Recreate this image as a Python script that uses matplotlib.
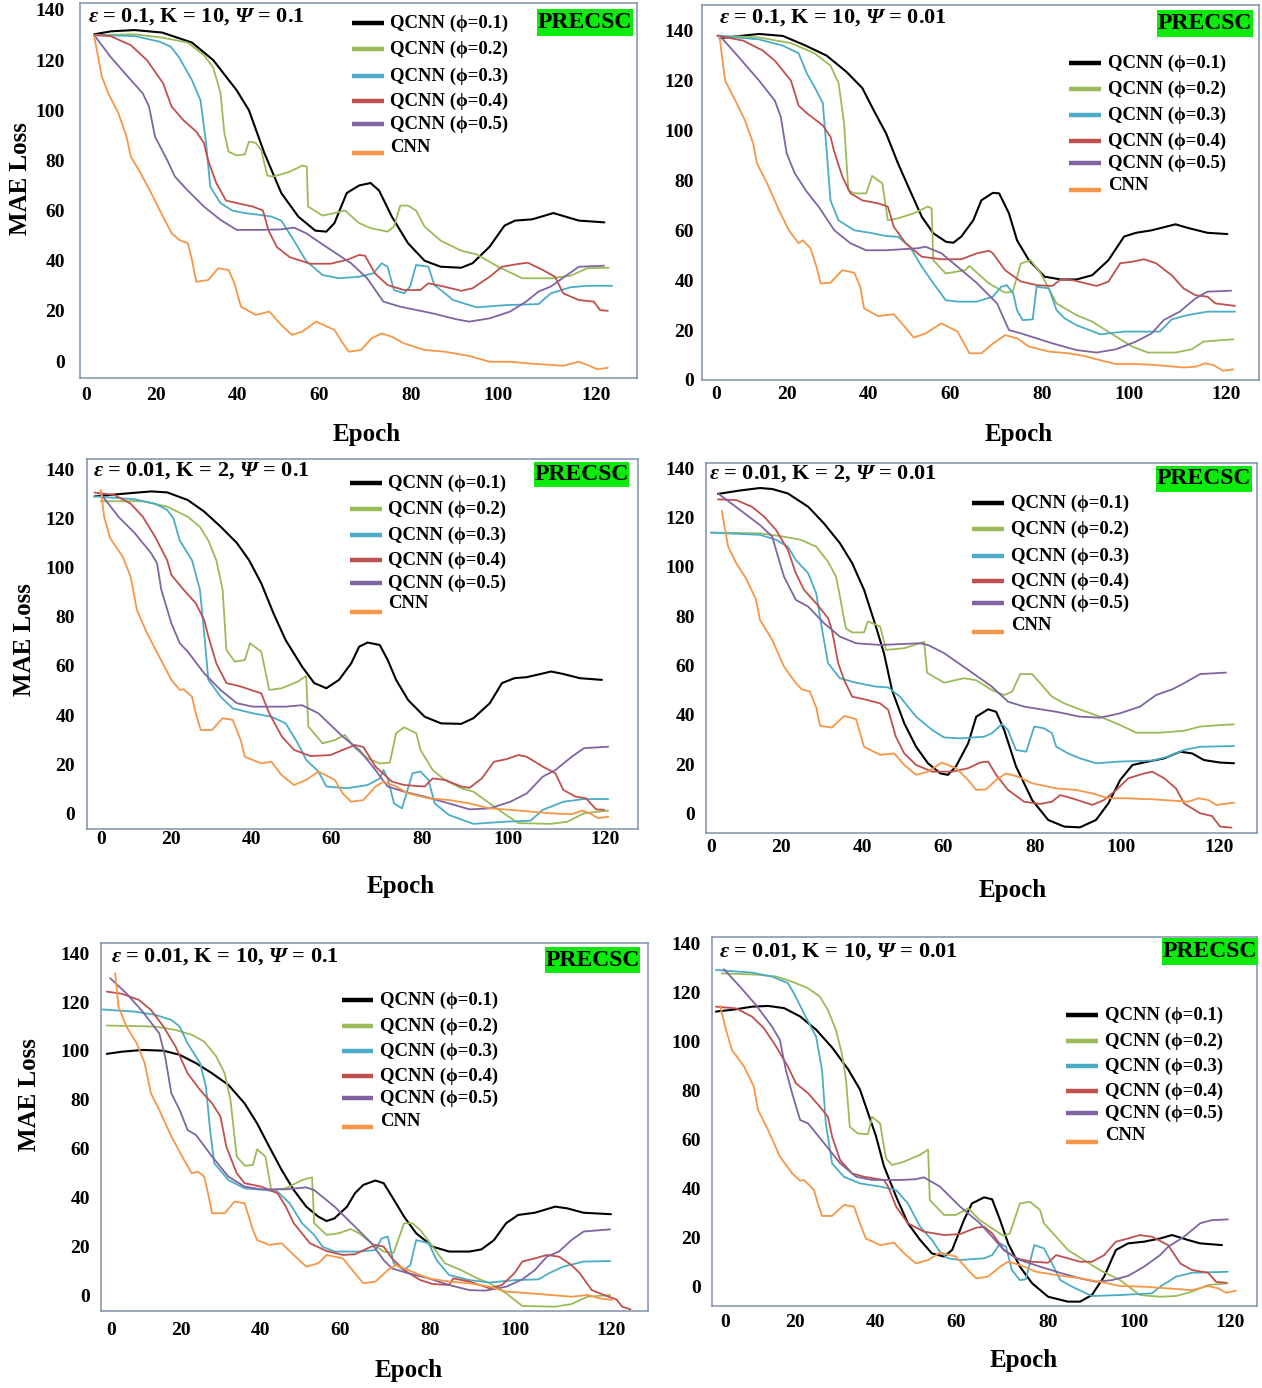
import matplotlib
matplotlib.use("Agg")
import matplotlib.pyplot as plt
from matplotlib.lines import Line2D
from matplotlib.patches import Rectangle

# ---------------- data (epoch, MAE loss) ----------------
SERIES_LABELS = ["QCNN (ϕ=0.1)", "QCNN (ϕ=0.2)", "QCNN (ϕ=0.3)",
                 "QCNN (ϕ=0.4)", "QCNN (ϕ=0.5)", "CNN"]
TITLES = [r"$\varepsilon$ = 0.1, K = 10, $\Psi$ = 0.1",
          r"$\varepsilon$ = 0.1, K = 10, $\Psi$ = 0.01",
          r"$\varepsilon$ = 0.01, K = 2, $\Psi$ = 0.1",
          r"$\varepsilon$ = 0.01, K = 2, $\Psi$ = 0.01",
          r"$\varepsilon$ = 0.01, K = 10, $\Psi$ = 0.1",
          r"$\varepsilon$ = 0.01, K = 10, $\Psi$ = 0.01"]
XTICK_POS = [0, 16.6, 35.8, 54.9, 76.6, 97.0, 120]
XTICK_LABELS = ["0", "20", "40", "60", "80", "100", "120"]
YTICKS = [0, 20, 40, 60, 80, 100, 120, 140]

# panel 1: eps=0.1, K=10, psi=0.1
P1_Q1 = [(2,130.3),(6,131.5),(11.5,132),(18,131),(25,127),(30,120),(35.5,108),(38.4,100),(42,83),(46,67),(50,57.6),(54,52),(56.6,51.6),(58.5,55),(61.4,67),(64.3,70),(67,71),(69,68),(72,57.6),(75.8,47),(79.7,40),(83.5,37.6),(88.3,37.2),(91,39),(95,45.6),(98.5,54),(101,56),(105,56.5),(110,59),(116,56),(122,55.3)]
P1_Q2 = [(2,130),(11.5,130.3),(18,129),(24,127),(27.8,122),(30,117),(31.7,107),(32.6,91),(33.6,83.5),(35.5,82),(37.4,82.4),(38.4,87.5),(40,87),(41.3,84),(42.7,74),(44,73.5),(48,75.5),(51,78),(52,77.5),(52.3,61.6),(55.7,58),(58.5,59),(61,60),(64.3,55),(67,53),(71,51.6),(72.5,53.6),(74,62),(75.8,62),(77.7,60),(79.7,53.6),(83.5,48),(88.3,44),(92,42.5),(97,37.6),(102.7,33),(109.4,33),(114,34),(118,37),(123,37.2)]
P1_Q3 = [(2,130),(11.5,129.6),(17.3,127.4),(20,125.4),(22,121),(25,112),(27,104),(28.3,87),(29.3,69.5),(31.7,63),(34.5,60),(37.4,59),(41.3,58.2),(43.7,57.6),(46,56),(49,48),(51.8,40),(55.7,34.3),(59.5,33),(64.3,33.6),(67.7,35),(69.6,39),(71,37.6),(72.5,28.3),(74.9,27),(76.3,29.7),(77.7,38.3),(80.6,37.6),(82,30.3),(84.5,27),(86.4,24.3),(92,21.4),(98.8,22.3),(106.5,22.7),(109.4,27),(114,29.4),(118,30),(123.8,30)]
P1_Q4 = [(2,130),(5.8,129.6),(10.6,126),(14.4,120),(18.2,110.8),(20.2,101.5),(23,96),(26,91.5),(27.8,87),(28.8,80),(30.7,71),(33,64),(35.5,63),(39.3,61.6),(41.7,60),(43,52),(45,45.4),(48,41.4),(52.8,38.8),(57.6,38.8),(61.4,40.3),(64.3,42.3),(65.7,42),(68,35),(71,30.3),(74.9,28.3),(78.7,28.3),(80.6,31),(84.5,29.6),(88.3,28),(91,29),(95,33.6),(97.9,37.6),(101.7,38.7),(104,39.2),(107.5,36.3),(110.4,33.6),(112.3,27),(116,24.3),(119.5,23.7),(121,20.3),(122.8,20)]
P1_Q5 = [(2,130),(5.8,121.4),(9.6,114),(13.4,106.8),(14.9,101.5),(16.3,89.5),(19.2,80),(21,73.5),(24,68),(27.8,61.6),(31.7,56.3),(35.5,52.3),(41.3,52.3),(46,52.5),(49,53.2),(51.8,51),(56.6,45.5),(62.4,39),(66.2,33),(70,23.7),(73.9,21.7),(81.6,19),(87.3,16.6),(90.2,15.7),(95,17),(99.8,19.7),(103.6,23.7),(106.5,27.7),(109.4,29.7),(113.2,34.3),(116,37.6),(121.9,38)]
P1_CNN = [(2,129.6),(3.8,113.4),(5.3,106.8),(7.7,98.8),(9.6,89.5),(10.6,81.5),(12.5,76.2),(15.4,67),(17.8,58.8),(20.2,51),(22,48.3),(24,47),(25,40.3),(26,31.6),(28.8,32.3),(31.2,37),(33.6,36.3),(35,31),(36.5,21.7),(40,18.4),(43.2,19.7),(46,14.4),(48.5,10.4),(50.9,11.7),(54.2,15.7),(58.5,12.4),(60.5,7),(61.9,3.7),(64.8,4.4),(67.2,9),(69.6,11),(72,9.7),(74.9,7),(79.7,4.4),(84.5,3.7),(90.2,2),(95,-0.3),(99.8,-0.3),(104.6,-1),(112.3,-1.9),(116,-0.3),(118,-1.6),(120.4,-3.3),(122.8,-2.7)]

# panel 2: eps=0.1, K=10, psi=0.01
P2_Q1 = [(0.7,137),(10,138.7),(15.6,137.9),(21,134),(25.9,130),(30.5,123.6),(34.3,117),(37,108),(39.9,98.8),(42.7,86.8),(45.5,76),(48.3,65.4),(51,58.8),(54,55.4),(55.7,55),(57.6,57.5),(60.4,64),(62.3,72),(65,75),(66.5,74.8),(68.8,66.8),(70.7,56),(73.5,48),(77.2,41.4),(81,40.3),(84.7,40.3),(88.4,42),(92.2,48),(95.9,57.5),(98.7,59),(102.4,60),(108,62.4),(110.8,61),(115.5,59),(120.2,58.5)]
P2_Q2 = [(0.2,138),(10,137.3),(17.5,135),(23,131),(26.8,126),(28.7,119),(30,103),(31,76),(32.4,74.8),(35.2,74.8),(36.6,81.8),(39,78.8),(40.3,64),(42.7,64.8),(46.4,66.8),(49.7,69.5),(50.6,68.8),(51,48),(53.9,42.7),(58.5,44),(59.5,45.7),(64.1,38.7),(67.9,35),(69.7,35.4),(71.6,46.7),(73.9,48),(76.3,42.7),(80,30.7),(84.7,26),(88.4,23.4),(94,17.4),(97.8,13.4),(101.5,11),(108,11),(111.8,12.3),(114.6,15.4),(117.4,15.8),(121.6,16.3)]
P2_Q3 = [(0.2,138),(10,136.5),(15.6,134),(19.3,131),(21.2,123),(23,117.6),(25,111),(25.9,92),(26.8,72),(28.7,64),(32.4,60),(36.1,59),(39.9,57.7),(42.7,57.4),(45.5,53.4),(48.3,45.4),(51,38.8),(53.9,32),(56.7,31.4),(61.2,31.4),(65,33.4),(67,37.4),(68.3,38),(69.8,34.7),(70.7,28),(72,24),(74.4,24.3),(75.3,37.4),(78.2,36.7),(80,28),(81.9,24.7),(84.7,22),(90.3,18.3),(95.9,19.4),(104.3,19.4),(107.1,24.3),(110.8,26),(115.5,27.4),(122,27.4)]
P2_Q4 = [(0.2,138),(6.3,136),(10.9,132),(13.7,128),(17.5,120),(19.3,110),(21.2,107),(25,102),(26.8,97.5),(27.7,91.5),(29.6,81.5),(31.5,74.8),(34.3,72),(38,70.8),(40.3,69.5),(41.7,61.4),(44.5,54.8),(48.3,49.4),(52.9,48.4),(57.6,48.4),(61.3,50.8),(64.1,51.8),(65,50.8),(67.9,44),(71.6,39.5),(75.4,38),(79,37.7),(81,40.3),(83.8,40),(89.4,37.7),(92.2,39.4),(95,46.8),(97.8,47.4),(100.6,48.4),(103.4,46.8),(107.1,42),(109.9,36.7),(112.7,34),(115.5,33.4),(117.4,30.7),(122,29.7)]
P2_Q5 = [(0.7,138),(4.4,131),(10,120),(13.7,112),(15.1,105.5),(16.5,90.8),(18.4,82.8),(21.2,75.5),(24,69.5),(27.7,60),(31.5,54.8),(35.2,52),(39.9,52),(47.3,52.8),(49.2,53.4),(52.9,50.8),(56.7,45.4),(61.3,38.8),(66,30.7),(68.8,20),(71.6,18.7),(79,14.7),(84.7,12),(89.4,11),(94,12.3),(98.7,15.4),(102.4,18.7),(105.2,24),(109,27.4),(112.7,32.7),(115.5,35.4),(121.1,35.8)]
P2_CNN = [(0.7,137.5),(2,120),(4.4,112),(6.7,104),(8.6,94.8),(9.5,86.8),(11.9,78.8),(14.7,68),(17,60),(19.3,54.8),(20.3,56),(22.1,52.8),(23.5,45.4),(24.5,38.7),(26.8,39),(29.6,44),(32.4,43),(33.8,37.4),(34.7,28.7),(38,25.6),(41.7,26.4),(43.6,22.7),(46.4,17),(49.2,18.7),(52.9,22.7),(56.7,19.4),(59.5,10.7),(62.3,10.7),(65.1,14.7),(67.9,18),(70.7,16.7),(73.5,13.4),(78.2,11.4),(82.8,10.7),(86.6,9.6),(89.4,8.3),(94,6.4),(98.7,6.4),(103.4,6),(109.9,5),(112.7,5.3),(115,6.7),(116.9,6),(119.2,3.7),(121.6,4.3)]

# panel 3: eps=0.01, K=2, psi=0.1
P3_Q1 = [(-1.5,129),(5,130),(12,131),(15.8,130.6),(20.7,127.5),(24.6,122.8),(28.5,116.7),(32.4,110),(35.3,103),(38.2,93.6),(41.1,81.4),(44,70.5),(47.9,59.7),(50.8,53),(53.7,50.9),(56.7,54.3),(59.6,61),(61.5,67.8),(63.5,69.5),(66.4,68.5),(68.3,62.4),(70.3,54.3),(73.2,46),(77.1,39.3),(81,36.6),(85.8,36.4),(88.7,38.7),(92.6,44.8),(95.5,53),(98.5,55),(101.4,55.4),(107.2,57.7),(110.1,56.7),(114,55),(119.3,54.3)]
P3_Q2 = [(0,127),(10,127),(15.8,124.8),(20.7,120.7),(23.6,116.6),(25.6,111),(27.5,103),(29,91),(29.9,66.5),(31.9,61.7),(34.3,62.4),(35.5,69.2),(38.2,65.8),(40.1,50.2),(43.1,50.9),(46.9,53.6),(48.9,55.9),(49.4,35.3),(52.8,28.5),(55.7,29.8),(58.1,31.9),(60.5,26.5),(63.5,22.4),(66.4,20.3),(68.8,20.6),(70.3,32.6),(72.2,35),(75.1,32.6),(76.1,25.8),(79,17.6),(81.9,13.6),(85.8,10.2),(88.7,8.8),(92.6,4),(96.5,-0.7),(99.4,-4),(107.2,-4.3),(111.1,-3.4),(115,0),(120.8,1.1)]
P3_Q3 = [(-1.5,129),(8,127.8),(12.9,126),(15.8,123.5),(17.3,120),(18.8,111),(21.7,103),(23.6,91),(24.6,73.3),(25.6,54.3),(28.5,47.5),(31.4,42.7),(36.2,40.7),(40.6,39.3),(44,36.6),(46.9,28.5),(48.9,21.7),(51.8,17),(53.7,10.9),(58.6,10.2),(63.5,11.5),(66.4,14.2),(67.3,17.6),(68.3,14.2),(69.8,4),(71.7,2),(74.2,16.3),(76.1,17),(78,13.6),(79.5,4),(82.9,-0.7),(88.7,-4.3),(96.5,-3.4),(102.3,-3),(105.2,1.4),(110.1,4.7),(115,5.8),(120.8,5.8)]
P3_Q4 = [(-1.5,130.5),(3.2,129.6),(7.1,126),(10,120.7),(12.9,112.6),(15.8,103),(16.8,97),(19.7,91),(22.6,85.5),(24.6,78.7),(25.6,72),(27.5,61),(29.9,53),(33.3,51.6),(38.2,48.8),(40.1,40.7),(43.1,31.2),(46,25.8),(49.9,23.3),(54.7,23.7),(57.6,25.8),(60.5,27.8),(62.5,27),(65.4,19),(69.3,12.9),(72.2,11.5),(77.1,10.9),(79,14.2),(81.9,13.6),(85.8,10.9),(87.8,10.4),(90.7,14.2),(93.6,21),(96.5,22),(99.4,23.7),(101.4,23),(105.2,19),(108.2,16.3),(110.1,9.5),(113,6.8),(115.5,6.1),(117.9,1.6),(119.8,1.4)]
P3_Q5 = [(0,130),(4.2,120.7),(8.1,114),(12,105.8),(13.4,101.7),(14.4,91),(16.8,77.3),(18.8,69.2),(20.7,65.8),(24.6,57),(28.5,50.2),(32.4,44.8),(36.2,43.4),(44,43.4),(47.9,44),(51.8,40.7),(57.6,31.2),(61.5,25.8),(65.4,17.6),(68.3,10.9),(72.2,8.8),(77.1,6.8),(82.9,4),(87.8,1.6),(92.6,2),(97.5,4.7),(101.4,8.1),(105.2,14.9),(108.2,17.6),(112.1,23),(115,26.5),(120.8,27.1)]
P3_CNN = [(0,131.6),(0.8,120.7),(2.2,112),(5.2,104.5),(7.1,96.3),(8.6,82.7),(11,73.3),(13.9,63.8),(16.8,54.3),(18.8,50.2),(19.7,50.5),(21.7,47.5),(22.6,40.7),(23.8,33.9),(26.5,33.9),(29,38.7),(31.4,38),(33.3,29.8),(34.3,23),(38.2,20.3),(40.6,21),(43,15.6),(46,11.5),(48.9,13.6),(51.8,17),(55.7,13.6),(57.6,8.1),(59.6,4.7),(62.5,5.4),(65.4,10.9),(67.3,12.9),(70.3,10.9),(73.2,8.1),(78,6.1),(82.9,5.4),(87.8,4),(92.6,2),(97.5,1.4),(102.3,0.7),(107.2,0),(112.1,-0.4),(114.5,1.1),(116.4,0),(118.4,-2),(120.8,-1.4)]

# panel 4: eps=0.01, K=2, psi=0.01
P4_Q1 = [(1.7,129.6),(6.9,131),(11.6,132),(14.5,131.6),(18.2,129.8),(23,124.4),(26.7,117.7),(30.5,109.6),(33.4,101.5),(36.2,90.7),(39,75.8),(40.9,65),(42.8,50),(45.7,36.5),(48.5,27),(51.3,20.3),(54.2,16.2),(56,15.6),(57.9,19),(60.8,28.4),(62.7,39.2),(65.5,42.2),(67.4,41.2),(69.3,33.8),(72.1,19),(75.9,5.4),(79.7,-2.7),(83.5,-5.4),(87.2,-5.7),(91,-2.7),(93.9,4),(96.7,13.5),(99.6,19.6),(103.3,21),(107.1,22.3),(110.9,25),(113.7,24.3),(116.5,21.6),(120.3,20.6),(123.6,20.3)]
P4_Q2 = [(0,113.9),(11.6,113.6),(16.4,112.5),(21.2,111),(24.9,108.2),(27.7,102.1),(29.6,96),(30.5,88),(31.9,75),(33.4,73.4),(36.2,73.4),(37.1,77.9),(40,75.8),(41.4,66.3),(45.7,67),(49.4,69),(50.4,69.6),(51.1,57),(55.1,53),(59.8,54.8),(62.7,54),(66.4,50),(69.3,48),(71.2,49.4),(73.1,56.5),(75.9,56.5),(77.8,52.8),(80.6,47.3),(83.5,44.6),(88.2,41.5),(92,39.2),(96.7,35.8),(100.5,32.7),(106.1,32.7),(111.8,33.5),(115.6,35.2),(120.3,35.8),(123.6,36.1)]
P4_Q3 = [(0,113.9),(11.6,113),(15.4,111),(18.2,108.2),(20.1,102.8),(23,97.4),(24.9,89.3),(26.3,74.4),(27.7,60.9),(30.5,54.8),(34.3,53),(39,51.4),(41.9,51.1),(44.7,47.3),(48.5,39.2),(52.3,33.8),(55.1,30.8),(58.9,30.4),(64.6,31.1),(66.4,32.5),(68.8,36.2),(70.2,33.8),(72.1,25.7),(74.5,25),(76.4,35.2),(78.7,34.5),(80.6,32.5),(81.6,27),(84.4,24.3),(87.2,22.3),(91,20.3),(96.7,21),(104.3,21.4),(108,23),(111.8,25.7),(115.6,27),(123.6,27.3)]
P4_Q4 = [(1.7,127.4),(6,127.1),(9.7,124.4),(12.6,120.4),(15.4,115),(18.2,106.9),(20.1,97.4),(22,90.7),(24.9,85.2),(27.7,79.2),(28.6,74.4),(30.1,60.9),(31.5,54.1),(33.4,47.3),(36.2,46.3),(40,44.6),(41.9,42),(43.7,31.1),(45.7,24.3),(48.5,19.6),(52.3,16.9),(57,16.9),(60.8,18.3),(63.6,20.6),(65.5,21),(67.4,15.6),(70.2,9.5),(74,4.7),(77.8,3.8),(80.6,4.7),(82.5,7.4),(85.3,6.1),(90.1,3.4),(92.9,5.4),(95.8,9.5),(98.6,14.2),(102.4,16.2),(104.3,16.9),(107.1,14.2),(109.9,10.1),(111.8,4),(115.6,0),(118.4,-1.1),(120.3,-5.4),(123,-5.8)]
P4_Q5 = [(1.7,129.8),(6.9,123.1),(11.6,117),(14.5,112.3),(15.9,104),(17.3,96),(20.1,86.6),(23,83.9),(26.7,77.2),(30.5,71.7),(34.3,69),(40,68.3),(49.4,69),(51.3,68.3),(55.1,65),(60.8,58.2),(66.4,51.4),(70.2,45.3),(74,43.3),(81.6,41.2),(87.2,39.2),(92,38.8),(96.7,40.6),(101.4,43.3),(105.2,48),(109,50.3),(111.8,52.8),(115.6,56.5),(121.7,57.1)]
P4_CNN = [(2.6,122.8),(4.1,108.2),(6,101.5),(8.3,95.4),(10.7,86.6),(11.6,78.5),(14.5,70.4),(17.3,59.5),(20.1,52.8),(21.5,50.3),(23.4,49.4),(24.9,43),(25.8,35.5),(28.6,34.8),(31.5,39.5),(34.3,38.2),(36.2,27),(40,23.7),(43.3,24.3),(45.7,19.6),(48.5,15.6),(51.3,16.9),(54.6,20.6),(57.9,18.3),(60.8,13.5),(62.7,9.5),(65,9.7),(67.4,13.5),(69.7,16.2),(72.5,14.9),(75.9,12.2),(81.6,10.1),(86.2,9.5),(90.1,8.1),(93.9,6.1),(97.7,6.1),(104.3,5.7),(112.8,4.7),(115.2,6.1),(117.5,5.4),(119.4,3.4),(123.6,4.3)]

# panel 5: eps=0.01, K=10, psi=0.1
P5_Q1 = [(-1.1,98.8),(2.6,99.7),(7.5,100.4),(12.5,100.1),(16.4,98.4),(20.3,95),(24.2,90.8),(28.1,86.1),(32,78.5),(35,70.3),(37.9,60.8),(40.9,51.2),(43.8,43),(46.8,36.2),(49.7,32.1),(51.7,30.3),(53.6,31.4),(56.6,36.2),(58.5,41.7),(60.5,45.1),(63.4,46.9),(65.4,45.8),(67.4,40.3),(70.3,32.1),(73.2,25.3),(77.2,19.8),(81.1,17.8),(86,17.8),(88.9,18.7),(91.9,22.5),(94.8,29.4),(97.7,32.8),(101.7,33.7),(106.6,36.2),(109.5,35.5),(113.4,33.7),(120,33.1)]
P5_Q2 = [(-1.1,110.4),(10.5,110),(15.4,108.6),(19.3,106.6),(22.3,103.8),(25.2,97.7),(27.2,90.8),(28.6,79.9),(30.1,56.7),(32.1,52.9),(34,53.3),(35,59.7),(37,56.7),(38.4,43),(41.9,43.7),(45.8,47.1),(48.2,48.2),(48.7,29.4),(51.7,24.6),(54.6,25.3),(57.5,27),(59.5,25.3),(62.5,21.2),(65.4,17.8),(67.8,17.3),(70.3,29.4),(72.3,29.4),(74.2,26.6),(77.2,19.8),(80.1,13),(84,10.2),(87.9,6.8),(90.9,4.8),(94.8,0.7),(98.7,-4.5),(106.6,-4.8),(110.5,-3.7),(114.4,-0.7),(119.8,0)]
P5_Q3 = [(-2.3,117),(5.6,116.1),(10.5,114.8),(14.4,112.7),(16.4,110),(18.3,103.1),(21.3,95),(22.7,85.4),(23.7,67.6),(24.7,54),(28.1,47.1),(32,43.7),(37,43),(39.9,42.3),(42.8,37.6),(45.8,29.4),(48.7,24.6),(50.7,19.8),(53.6,17.8),(59.5,17.8),(63.4,18.4),(64.9,23.2),(66.4,23.9),(67.8,13),(70.3,10.2),(71.8,12.3),(73.2,22.5),(76.2,21.2),(78.1,14.3),(81.1,8.2),(86,6.1),(90.9,5.1),(96.8,6.1),(102.6,6.4),(105.1,8.9),(108.5,11.6),(113.4,13.7),(119.8,13.9)]
P5_Q4 = [(-1.1,124.3),(2.6,123.4),(6.6,120.9),(9.5,116.8),(12.5,110),(15.4,101.8),(18.3,90.8),(21.3,84),(24.2,78.5),(26.2,73.1),(27.6,60.8),(30.1,49.9),(32,45.8),(36,44.4),(39.9,41.7),(41.9,36.2),(43.8,29.4),(47.7,21.2),(51.7,18),(55.6,16.4),(58.5,16.7),(61.5,19.1),(63.4,20.5),(65.4,19.8),(67.4,15),(70.3,10.2),(74.2,6.1),(77.2,4.5),(81.1,4.1),(82.1,6.8),(86,5.5),(90.9,2.7),(93.8,4.1),(96.8,8.9),(98.7,13.7),(101.7,15),(104.6,16.4),(107.5,15.7),(110.5,12.3),(112.5,8.9),(115.4,2),(118.3,0),(121.3,-1.8),(122.7,-4.8),(124.7,-5.9)]
P5_Q5 = [(-0.3,129.8),(3.6,123.6),(7.5,116.1),(11.5,107.2),(12.9,97.7),(14.4,82.6),(16.4,75.8),(18.3,67.6),(20.3,65.6),(24.2,56.7),(28.1,48.5),(32,44.4),(36,43.3),(41.9,43.3),(46.8,44.1),(48.7,43),(53.6,36.2),(58.5,28),(62.5,21.2),(65.4,14.3),(67.4,10.9),(71.3,8.9),(76.2,6.8),(81.1,4.1),(86,2),(89.9,1.8),(94.8,3.4),(98.7,6.4),(101.7,10.2),(104.6,15.7),(107.5,17.8),(110.5,22.5),(113.4,26),(119.8,26.9)]
P5_CNN = [(0.9,131.8),(1.7,118.2),(3.6,110),(6.1,103.1),(8,95),(9.5,82.6),(11.5,75.8),(14.4,65),(17.4,55.5),(19.3,49.9),(20.8,50.5),(22.3,48.5),(23.2,41.7),(24.2,33.5),(27.2,33.5),(29.6,38.3),(32,37.6),(34,26.6),(35,22.5),(37.9,20.5),(40.9,21.2),(43.8,16.4),(46.8,11.6),(49.7,13),(51.7,16.4),(55.6,15),(58.5,8.9),(60.5,4.8),(63.4,5.5),(66.4,10.2),(68.3,12.3),(71.3,10.2),(76.2,6.8),(81.1,5.5),(86,4.8),(90.9,3.4),(94.8,1.4),(100.6,0.7),(110.5,-0.7),(114.4,0),(117.3,-1.4),(120.3,-2)]

# panel 6: eps=0.01, K=10, psi=0.01
P6_Q1 = [(-2.2,112.4),(1.6,113.1),(6.4,114.4),(10.2,114.7),(14,113.8),(17.8,110.4),(21.6,105),(25.4,97.7),(29.2,88.8),(32,80.6),(33.9,71.1),(35.8,61.6),(37.7,49.3),(40.6,36.8),(43.4,25.9),(46.3,19.1),(49.1,13.6),(52,12.3),(53.9,15),(56.7,27.2),(58.6,34),(61.5,36.5),(63.4,35.7),(65.3,27.2),(67.2,17.7),(70,8.2),(72.9,1.4),(76.7,-4.1),(81.4,-6.1),(84.3,-6.1),(87.1,-3.4),(90,4.1),(92.8,15),(95.7,17.7),(99.5,18.4),(103.3,19.7),(106.1,21.1),(109.9,19.1),(112.8,17.7),(118,17)]
P6_Q2 = [(-0.8,128),(7.3,127.5),(12.1,126.7),(15.9,124.6),(19.7,121.9),(22.5,118.5),(24.4,113),(26.3,104.9),(27.7,95.3),(28.7,84.5),(29.6,65.3),(31.5,62.6),(33.9,62.3),(34.9,69.4),(36.8,66.7),(38.2,52.4),(39.6,49.7),(42.5,51.1),(46.3,53.9),(48.2,56),(48.6,35.4),(52,29.3),(54.8,29.3),(57.7,32),(60.5,27.2),(63.4,23.8),(66.2,20.7),(67.6,21.8),(70,34),(72.4,34.7),(74.8,31.3),(75.7,25.9),(78.6,20.4),(81.4,15),(85.2,10.9),(89,6.8),(93.8,2.7),(98.5,-3.4),(103.3,-4.1),(107.1,-3.8),(110.9,-2),(114.7,0.7),(119.4,1.4)]
P6_Q3 = [(-2.2,129.4),(6.4,128.3),(11.1,126.7),(14.9,124),(16.3,119.9),(18.7,111.7),(21.6,102.1),(23,88.5),(23.9,66.7),(25.4,50.3),(28.2,44.9),(32,42.2),(36.8,40.9),(40.6,39.5),(43.4,34),(46.3,24.5),(49.1,19.1),(51,14.3),(52.9,11.6),(55.8,10.9),(61.5,11.6),(63.4,12.9),(65.3,17.7),(66.7,16.3),(68.1,6.8),(70,2.7),(71.4,3),(73.4,17),(75.7,15.7),(77.2,10.9),(79.6,2.7),(82.4,0),(87.1,-3.8),(93.8,-3.4),(101.4,-2.7),(103.3,0),(107.1,4.1),(110.9,5.7),(119.4,6.1)]
P6_Q4 = [(-2.2,114.4),(2.6,113.7),(6.4,110.3),(9.2,105.6),(12.1,98.1),(14.9,89.9),(16.8,83.1),(19.7,79),(22.5,73.5),(24.4,69.4),(25.4,61.3),(27.3,51.7),(30.1,46.3),(33,44.9),(37.7,43.6),(38.7,40.9),(40.6,32.7),(43.4,25.9),(47.2,22.5),(52,21.1),(55.8,21.5),(59.6,24.1),(61.5,24.5),(63.4,21.8),(66.2,15),(69.1,11.6),(72.9,10.2),(76.7,9.8),(78.6,12.9),(81.4,11.6),(84.3,10.2),(87.1,10.2),(90,12.9),(92.8,18.4),(95.7,19.7),(98.5,21.1),(101.4,20.4),(105.2,17),(108.1,9.5),(110.9,6.8),(114.7,5.7),(116.6,2),(119,1.6)]
P6_Q5 = [(-0.3,129.7),(3.5,122.6),(7.3,115.1),(11.1,106.3),(13,100.8),(14.4,88.5),(15.9,79),(17.8,68.1),(19.7,66.7),(23.5,58.6),(27.3,50.4),(31.1,44.9),(34.9,43.6),(41.5,43.6),(45.3,43.9),(47.2,44.7),(51,40.9),(55.8,32.7),(60.5,25.9),(63.4,20.4),(66.2,15),(70,10.9),(74.8,8.2),(79.5,5.7),(84.3,3.4),(88.1,2),(91.9,2.7),(95.7,4.4),(99.5,8.2),(103.3,12.9),(105.2,16.3),(109,20.4),(112.8,25.9),(115.6,27.2),(119.4,27.5)]
P6_CNN = [(-1.2,114.7),(0.2,104.9),(1.6,96.7),(4.5,89.9),(6.8,81.7),(7.8,72.2),(10.2,64),(13,53.1),(15.9,46.3),(17.8,43.3),(18.7,43.6),(21.1,39.5),(22,34),(23,28.9),(25.4,28.9),(28.2,33.4),(30.6,32.7),(32,25.9),(33.4,19.7),(36.8,17),(40.1,18),(42.5,13.6),(45.3,9.5),(48.2,10.9),(51,13.9),(54.8,12.3),(57.7,6.8),(59.6,3.4),(62.4,4.1),(65.3,8.2),(67.2,10.2),(70,8.9),(73.8,6.1),(78.6,4.8),(84.3,3.4),(89,2),(93.8,0.3),(99.5,0),(105.2,-0.7),(110.9,-1.4),(114.7,0.3),(117.1,-0.7),(119,-2.5),(121.3,-1.6)]

PANEL_SERIES = [
    [P1_Q1, P1_Q2, P1_Q3, P1_Q4, P1_Q5, P1_CNN],
    [P2_Q1, P2_Q2, P2_Q3, P2_Q4, P2_Q5, P2_CNN],
    [P3_Q1, P3_Q2, P3_Q3, P3_Q4, P3_Q5, P3_CNN],
    [P4_Q1, P4_Q2, P4_Q3, P4_Q4, P4_Q5, P4_CNN],
    [P5_Q1, P5_Q2, P5_Q3, P5_Q4, P5_Q5, P5_CNN],
    [P6_Q1, P6_Q2, P6_Q3, P6_Q4, P6_Q5, P6_CNN],
]

# ---------------- styles / layout (pixel positions in the 1262x1388 canvas) ----------------
COLORS = ["#000000", "#9BBB59", "#4BACC6", "#C0504D", "#8064A2", "#F79646"]
WIDTHS = [1.5, 1.3, 1.3, 1.3, 1.3, 1.3]
FRAME_COLOR = "#8090A8"
BADGE_GREEN = "#0BEA0B"

W, H = 1262, 1388
SERIF = ["Liberation Serif", "DejaVu Serif"]
plt.rcParams["font.family"] = SERIF
plt.rcParams["font.weight"] = "bold"
plt.rcParams["mathtext.fontset"] = "custom"
plt.rcParams["mathtext.it"] = "Liberation Serif:italic:bold"
plt.rcParams["mathtext.rm"] = "Liberation Serif:italic:bold"

# frame=(left, top, right, bottom); x0/x120 = pixel of epoch 0/120; y0/y140 = pixel of loss 0/140
LAYOUT = [
    dict(frame=(80, 3, 637, 378), x0=85.7, x120=595.9, y0=361.0, y140=10.0,
         ypad=10.8, xpad=6.5, title=(88, 17), badge=(537, 9, 633, 36),
         leg=(352, 384, 390), rows=[23, 49, 76, 101, 124, 147], cnn_line=153,
         epoch=(367, 435), mae=(21, 179)),
    dict(frame=(702, 5, 1259, 380), x0=716.6, x120=1226.5, y0=380.0, y140=30.7,
         ypad=5.8, xpad=4.3, title=(719, 18), badge=(1157, 10, 1253, 37),
         leg=(1069, 1101, 1108), rows=[63, 89, 115, 141, 163, 186], cnn_line=190,
         epoch=(1019, 435), mae=None),
    dict(frame=(87, 459, 638, 829), x0=100.8, x120=604.9, y0=813.3, y140=469.3,
         ypad=8.6, xpad=1.5, title=(93, 471), badge=(534, 462, 629, 487),
         leg=(350, 382, 388), rows=[483, 509, 535, 560, 583, 604], cnn_line=612,
         epoch=(401, 887), mae=(25, 640)),
    dict(frame=(706, 463, 1257, 833), x0=710.8, x120=1218.8, y0=813.3, y140=468.3,
         ypad=8.0, xpad=4.3, title=(709, 474), badge=(1156, 466, 1252, 492),
         leg=(972, 1004, 1011), rows=[503, 529, 556, 581, 603, 625], cnn_line=632,
         epoch=(1013, 891), mae=None),
    dict(frame=(101, 943, 648, 1311), x0=111.4, x120=611.0, y0=1295.0, y140=953.3,
         ypad=8.0, xpad=8.0, title=(111, 957), badge=(545, 947, 640, 973),
         leg=(342, 373, 380), rows=[1000, 1026, 1051, 1076, 1098, 1121], cnn_line=1127,
         epoch=(409, 1370), mae=(29, 1095)),
    dict(frame=(712, 937, 1257, 1306), x0=725.2, x120=1230.4, y0=1286.7, y140=944.0,
         ypad=8.0, xpad=5.8, title=(719, 952), badge=(1162, 938, 1258, 965),
         leg=(1066, 1098, 1105), rows=[1015, 1041, 1066, 1091, 1113, 1136], cnn_line=1142,
         epoch=(1024, 1360), mae=None),
]


def fx(px):
    return px / W


def fy(py):
    return 1 - py / H


fig = plt.figure(figsize=(W / 100, H / 100), dpi=100)
fig.patch.set_facecolor("white")

for series, title, lay in zip(PANEL_SERIES, TITLES, LAYOUT):
    l, t, r, b = lay["frame"]
    ax = fig.add_axes([fx(l), fy(b), (r - l) / W, (b - t) / H])

    for pts, color, lw in zip(series, COLORS, WIDTHS):
        xs, ys = zip(*pts)
        ax.plot(xs, ys, color=color, lw=lw, solid_joinstyle="round", solid_capstyle="round")

    # axis limits so that the tick labels sit where they do in the reference
    sx = (lay["x120"] - lay["x0"]) / 120
    sy = (lay["y0"] - lay["y140"]) / 140
    ax.set_xlim((l - lay["x0"]) / sx, (r - lay["x0"]) / sx)
    ax.set_ylim((lay["y0"] - b) / sy, (lay["y0"] - t) / sy)

    ax.set_xticks(XTICK_POS, XTICK_LABELS)
    ax.set_yticks(YTICKS)
    ax.tick_params(axis="both", length=0, labelsize=14)
    ax.tick_params(axis="x", pad=lay["xpad"])
    ax.tick_params(axis="y", pad=lay["ypad"])
    for sp in ax.spines.values():
        sp.set_color(FRAME_COLOR)
        sp.set_linewidth(1.1)

    # panel title
    fig.text(fx(lay["title"][0]), fy(lay["title"][1]), title, ha="left", va="center",
             fontsize=16, fontweight="bold")

    # green PRECSC badge
    bl, bt, br, bb = lay["badge"]
    fig.add_artist(Rectangle((fx(bl), fy(bb)), (br - bl) / W, (bb - bt) / H,
                             transform=fig.transFigure, facecolor=BADGE_GREEN,
                             edgecolor="none"))
    fig.text(fx((bl + br) / 2), fy((bt + bb) / 2), "PRECSC", ha="center", va="center",
             fontsize=17, fontweight="bold")

    # legend
    x1, x2, xt = lay["leg"]
    for i, (lab, color) in enumerate(zip(SERIES_LABELS, COLORS)):
        row = lay["rows"][i]
        ly = lay["cnn_line"] if i == len(SERIES_LABELS) - 1 else row
        fig.add_artist(Line2D([fx(x1), fx(x2)], [fy(ly), fy(ly)], transform=fig.transFigure,
                              color=color, lw=3.2, solid_capstyle="butt"))
        fig.text(fx(xt), fy(row), lab, ha="left", va="center", fontsize=13.5,
                 fontweight="bold")

    fig.text(fx(lay["epoch"][0]), fy(lay["epoch"][1]), "Epoch", ha="center", va="center",
             fontsize=18, fontweight="bold")
    if lay["mae"] is not None:
        fig.text(fx(lay["mae"][0]), fy(lay["mae"][1]), "MAE Loss", ha="center",
                 va="center", rotation=90, fontsize=18, fontweight="bold")

fig.savefig("out.png", dpi=100)
